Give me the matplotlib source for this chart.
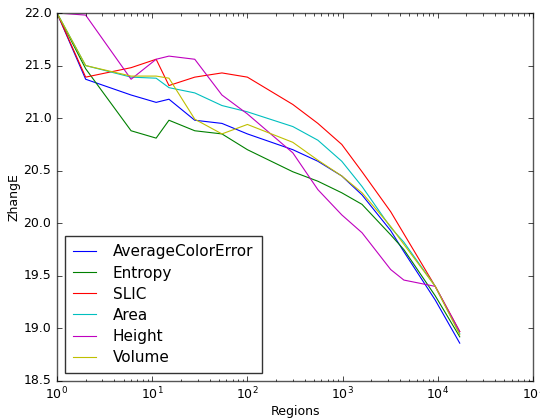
import matplotlib
matplotlib.use("Agg")
import matplotlib.pyplot as plt

regions = [1, 2, 6, 11, 15, 28, 54, 100, 300, 550, 980, 1600, 3200, 4400, 9400, 17000]

average_color_error = [22.0, 21.37, 21.22, 21.15, 21.18, 20.98, 20.95, 20.85, 20.70, 20.59, 20.45, 20.27, 19.93, 19.73, 19.27, 18.86]
entropy = [22.0, 21.47, 20.88, 20.81, 20.98, 20.88, 20.85, 20.70, 20.49, 20.40, 20.29, 20.18, 19.89, 19.75, 19.31, 18.92]
slic = [22.0, 21.39, 21.48, 21.56, 21.31, 21.39, 21.43, 21.39, 21.13, 20.95, 20.75, 20.49, 20.11, 19.90, 19.40, 18.97]
area = [22.0, 21.50, 21.39, 21.38, 21.29, 21.24, 21.12, 21.06, 20.92, 20.79, 20.59, 20.35, 19.96, 19.82, 19.40, 18.95]
height = [22.0, 21.98, 21.37, 21.56, 21.59, 21.56, 21.22, 21.04, 20.67, 20.32, 20.08, 19.91, 19.56, 19.46, 19.40, 18.97]
volume = [22.0, 21.50, 21.40, 21.40, 21.38, 20.99, 20.85, 20.94, 20.77, 20.60, 20.45, 20.29, 19.97, 19.80, 19.40, 18.94]

series = [
    ("AverageColorError", average_color_error, "b"),
    ("Entropy", entropy, "g"),
    ("SLIC", slic, "r"),
    ("Area", area, "c"),
    ("Height", height, "m"),
    ("Volume", volume, "y"),
]

plt.style.use("classic")
plt.rcParams.update({
    "font.family": "DejaVu Sans",
    "font.size": 9,
    "figure.facecolor": "white",
    "savefig.facecolor": "white",
    "xtick.major.size": 3.5,
    "xtick.minor.size": 1.8,
    "ytick.major.size": 3.5,
    "ytick.minor.size": 1.8,
    "xtick.major.pad": 3.5,
    "xtick.minor.pad": 3.5,
    "ytick.major.pad": 4,
    "axes.linewidth": 1.0,
})

fig = plt.figure(figsize=(5.4, 4.18), dpi=100)
ax = fig.add_axes([57 / 540, 1 - 381 / 418, (533 - 57) / 540, (381 - 13) / 418])

for name, vals, col in series:
    ax.plot(regions, vals, color=col, linewidth=0.8, label=name)

ax.set_xscale("log")
ax.set_xlim(1, 1e5)
ax.set_ylim(18.5, 22.0)
ax.set_yticks([18.5, 19.0, 19.5, 20.0, 20.5, 21.0, 21.5, 22.0])
ax.yaxis.set_major_formatter(matplotlib.ticker.FormatStrFormatter("%.1f"))
ax.set_xlabel("Regions", fontsize=9, labelpad=2)
ax.set_ylabel("ZhangE", fontsize=9, labelpad=2)
for sp in ax.spines.values():
    sp.set_color("#555555")

leg = ax.legend(loc="lower left", fontsize=11, handlelength=1.5, handletextpad=1.1,
                borderpad=0.55, labelspacing=0.4, borderaxespad=0.5, fancybox=False,
                numpoints=1)
leg.get_frame().set_edgecolor("#333333")

fig.savefig("out.png", dpi=100)
